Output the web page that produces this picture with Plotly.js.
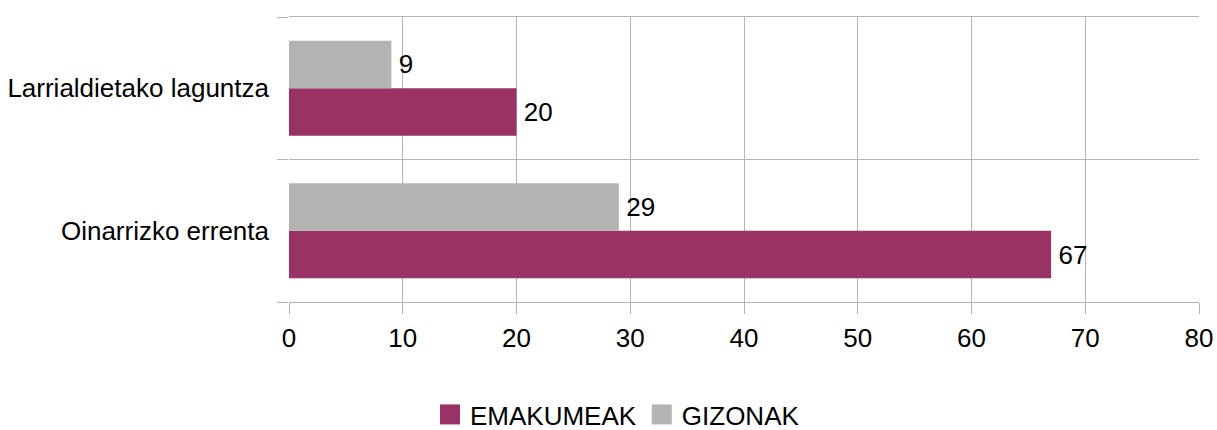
<!DOCTYPE html>
<html>
<head>
<meta charset="utf-8">
<script src="https://cdn.plot.ly/plotly-3.0.1.min.js"></script>
<style>
html,body{margin:0;padding:0;background:#fff;}
#chart{width:1217px;height:430px;}
</style>
</head>
<body>
<div id="chart"></div>
<script>
// Categories listed bottom to top
const categories = ["Oinarrizko errenta", "Larrialdietako laguntza"];
const emakumeak = [67, 20];
const gizonak = [29, 9];
const seriesNames = ["EMAKUMEAK", "GIZONAK"];
const xTicks = [0, 10, 20, 30, 40, 50, 60, 70, 80];

const FONT = "Liberation Sans, Arial, sans-serif";
const grid = "#b3b3b3";

const traces = [
  {
    type: "bar", orientation: "h", name: seriesNames[0],
    y: categories, x: emakumeak,
    marker: {color: "#993366"},
    texttemplate: "\u2006%{x}", textposition: "outside",
    textfont: {family: FONT, size: 26, color: "#000"},
    cliponaxis: false, hoverinfo: "none"
  },
  {
    type: "bar", orientation: "h", name: seriesNames[1],
    y: categories, x: gizonak,
    marker: {color: "#b3b3b3"},
    texttemplate: "\u2006%{x}", textposition: "outside",
    textfont: {family: FONT, size: 26, color: "#000"},
    cliponaxis: false, hoverinfo: "none"
  }
];

const layout = {
  width: 1217, height: 430,
  margin: {l: 289, r: 18, t: 17, b: 128, pad: 0},
  paper_bgcolor: "#fff", plot_bgcolor: "#fff",
  font: {family: FONT, size: 26, color: "#000"},
  barmode: "group", bargap: 0.333, bargroupgap: 0,
  showlegend: true,
  legend: {
    orientation: "h", x: 0.5074, xanchor: "center", xref: "container",
    y: 0.036, yref: "container", yanchor: "middle",
    font: {family: FONT, size: 26, color: "#000"},
    traceorder: "normal"
  },
  xaxis: {
    range: [0, 80], tickvals: xTicks, ticktext: xTicks.map(String),
    showgrid: true, gridcolor: grid, gridwidth: 1,
    zeroline: false, showline: true, mirror: true, linecolor: grid, linewidth: 1,
    ticks: "outside", ticklen: 11, tickcolor: grid, tickwidth: 1,
    ticklabelstandoff: 2,
    tickfont: {family: FONT, size: 26, color: "#000"},
    fixedrange: true
  },
  yaxis: {
    type: "category", categoryorder: "array", categoryarray: categories,
    range: [-0.5, 1.5],
    tickson: "boundaries",
    showgrid: true, gridcolor: grid, gridwidth: 1,
    zeroline: false, showline: false,
    ticks: "outside", ticklen: 11, tickcolor: grid, tickwidth: 1,
    ticklabelstandoff: 19,
    tickfont: {family: FONT, size: 26, color: "#000"},
    fixedrange: true
  }
};

Plotly.newPlot("chart", traces, layout, {staticPlot: true, displayModeBar: false}).then(function(gd){
  gd.querySelectorAll(".legend .legendpoints path").forEach(function(p){
    p.setAttribute("d", "M10,10H-10V-10H10Z");
    p.style.strokeWidth = "0px";
  });
});
</script>
</body>
</html>
